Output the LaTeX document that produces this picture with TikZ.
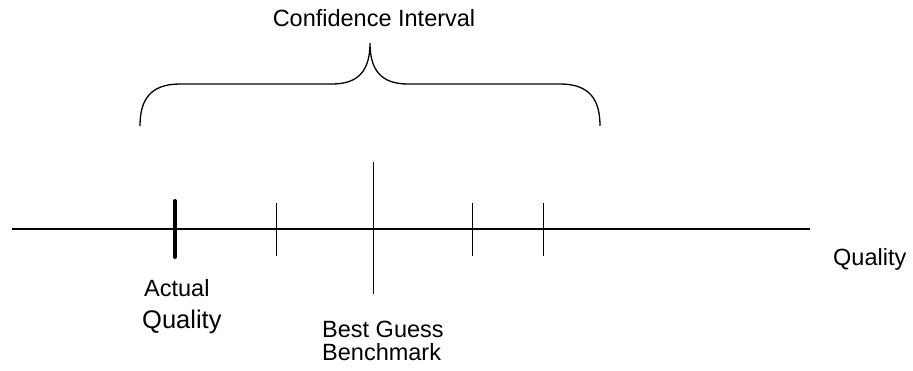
\documentclass[tikz,border=0pt]{standalone}
\usepackage{fontspec}
\setmainfont{Liberation Sans}
\begin{document}
\begin{tikzpicture}[x=1pt,y=-1pt,
  lbl/.style={inner sep=0pt, anchor=base west, font=\fontsize{23.5}{28}\selectfont},
  thintick/.style={line width=1pt},
  axisline/.style={line width=1.7pt},
  bracestyle/.style={line width=1.3pt}]
\useasboundingbox (0,0) rectangle (913,370);
% axis
\coordinate (axL) at (12,229);
\coordinate (axR) at (810,229);
\draw[axisline] (axL) -- (axR);
% ticks
\coordinate (aT) at (175,201); \coordinate (aB) at (175,257);
\draw[line width=4pt, line cap=round] (aT) -- (aB);
\coordinate (t1T) at (276,203); \coordinate (t1B) at (276,256);
\draw[thintick] (t1T) -- (t1B);
\coordinate (bgT) at (373,162); \coordinate (bgB) at (373,294);
\draw[thintick] (bgT) -- (bgB);
\coordinate (t3T) at (472,203); \coordinate (t3B) at (472,256);
\draw[thintick] (t3T) -- (t3B);
\coordinate (t4T) at (543,203); \coordinate (t4B) at (543,256);
\draw[thintick] (t4T) -- (t4B);
% brace
\coordinate (brL) at (140,126);
\coordinate (brTip) at (370,43);
\coordinate (brR) at (600,126);
\draw[bracestyle] (brL) .. controls (140,100) and (150,84) .. (180,84) -- (332,84)
  .. controls (359,84) and (370,70) .. (brTip)
  .. controls (370,70) and (381,84) .. (408,84) -- (560,84)
  .. controls (590,84) and (600,100) .. (brR);
% labels
\node[lbl, anchor=base] (ci) at (374,26) {Confidence Interval};
\node[lbl] (qual) at (833,265) {Quality};
\node[lbl] (act) at (144,296) {Actual};
\node[lbl, font=\fontsize{25.5}{30}\selectfont] (actq) at (142,328) {Quality};
\node[lbl] (bg) at (322,337) {Best Guess};
\node[lbl] (bm) at (322,360) {Benchmark};
\end{tikzpicture}
\end{document}
